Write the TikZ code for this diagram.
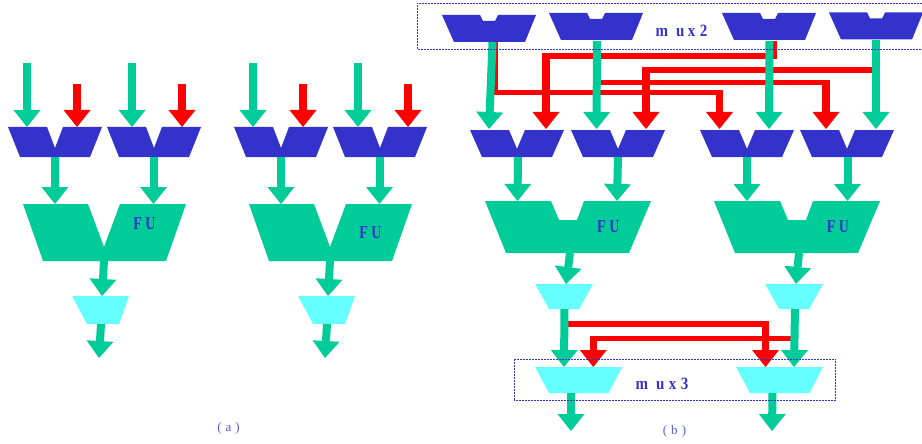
\documentclass[tikz,border=0pt]{standalone}
\usepackage{fontspec}
\setmainfont{Liberation Serif}
\usetikzlibrary{arrows.meta}
\definecolor{fugreen}{RGB}{0,204,153}
\definecolor{muxblue}{RGB}{51,51,204}
\definecolor{wirered}{RGB}{255,0,0}
\definecolor{regcyan}{RGB}{102,255,255}
\definecolor{capblue}{RGB}{90,90,210}
\tikzset{
 garrow/.style={draw=fugreen, line width=8pt, -{Triangle[width=27pt,length=17pt,line width=0pt]}},
 rarrow/.style={draw=wirered, line width=7.5pt, shorten <=-2.75pt, -{Triangle[width=27pt,length=17pt,line width=0pt]}},
 rwire/.style={draw=wirered, line width=5.5pt},
 muxbox/.style={draw=muxblue, line width=0.9pt, dash pattern=on 2pt off 1pt},
 fulabel/.style={text=muxblue, font=\bfseries\fontsize{14}{14}\selectfont, inner sep=0pt, yscale=1.3, transform shape},
 muxlabel/.style={text=muxblue, font=\bfseries\fontsize{15}{15}\selectfont, inner sep=0pt, yscale=1.15, transform shape},
 caplabel/.style={text=capblue, font=\fontsize{13}{13}\selectfont, inner sep=0pt},
 dmux/.pic={\fill[muxblue] (0,0)--(39,0)--(47,21)--(55,0)--(94,0)--(82,30)--(12,30)--cycle;},
 wmux/.pic={\fill[muxblue] (0,0)--(38,0)--(41,6)--(53,6)--(56,0)--(94,0)--(83,27)--(12,27)--cycle;},
 fua/.pic={\fill[fugreen] (0,0)--(65,0)--(81,43)--(97,0)--(163,0)--(143,57)--(20,57)--cycle;},
 fub/.pic={\fill[fugreen] (0,0)--(66,0)--(74,19)--(92,19)--(99,0)--(166,0)--(144,52)--(21,52)--cycle;},
 rega/.pic={\fill[regcyan] (0,0)--(57,0)--(47,28)--(15,28)--cycle;},
 regb/.pic={\fill[regcyan] (0,0)--(58,0)--(44,25)--(14,25)--cycle;},
 regc/.pic={\fill[regcyan] (0,0)--(87,0)--(73.5,26)--(14,26)--cycle;},
}
\begin{document}
\begin{tikzpicture}[x=1pt,y=-1pt]
\useasboundingbox (0,0) rectangle (922,444);

% ---------------- (a) : two identical slices ----------------
\foreach \n/\dx/\ly in {1/0/224,2/226/232.5}{
 \begin{scope}[xshift=\dx pt]
  \pic (a\n-m1) at (8,127) {dmux};
  \pic (a\n-m2) at (107,127) {dmux};
  \pic (a\n-fu) at (23,204) {fua};
  \pic (a\n-rg) at (72,296) {rega};
  \node[fulabel] (a\n-lab) at (144.5,\ly) {F U};
  \coordinate (a\n-g1s) at (27,63);    \coordinate (a\n-g1e) at (27,127);
  \coordinate (a\n-r1s) at (77,84);    \coordinate (a\n-r1e) at (77,127);
  \coordinate (a\n-g2s) at (132,63);   \coordinate (a\n-g2e) at (132,127);
  \coordinate (a\n-r2s) at (182,84);   \coordinate (a\n-r2e) at (182,127);
  \coordinate (a\n-o1s) at (55,157);   \coordinate (a\n-o1e) at (55,204);
  \coordinate (a\n-o2s) at (153.5,157);\coordinate (a\n-o2e) at (153.5,204);
  \coordinate (a\n-fos) at (104,261);  \coordinate (a\n-foe) at (102,296);
  \coordinate (a\n-ros) at (101,324);  \coordinate (a\n-roe) at (99,358);
 \end{scope}
 \draw[garrow] (a\n-g1s) -- (a\n-g1e);
 \draw[rarrow,shorten <=0pt] (a\n-r1s) -- (a\n-r1e);
 \draw[garrow] (a\n-g2s) -- (a\n-g2e);
 \draw[rarrow,shorten <=0pt] (a\n-r2s) -- (a\n-r2e);
 \draw[garrow] (a\n-o1s) -- (a\n-o1e);
 \draw[garrow] (a\n-o2s) -- (a\n-o2e);
 \draw[garrow] (a\n-fos) -- (a\n-foe);
 \draw[garrow] (a\n-ros) -- (a\n-roe);
}
\node[caplabel] (capa) at (228.5,428.5) {(\hspace{4pt}a\hspace{4pt})};

% ---------------- (b) ----------------
\pic (wA) at (442,15) {wmux};
\pic (wB) at (549,13) {wmux};
\pic (wC) at (722,13) {wmux};
\pic (wD) at (829,12.5) {wmux};
\pic[yscale=0.9] (bm1) at (470,130) {dmux};
\pic[yscale=0.9] (bm2) at (571,130) {dmux};
\pic[yscale=0.9] (bm3) at (700,130) {dmux};
\pic[yscale=0.9] (bm4) at (800,130) {dmux};
\pic (bfu1) at (485,201) {fub};
\pic (bfu2) at (714,201) {fub};
\pic (brg1) at (535,284) {regb};
\pic (brg2) at (765,284) {regb};
\pic (bmx1) at (535,367) {regc};
\pic (bmx2) at (736,367) {regc};
\node[fulabel] (bfu1lab) at (608.3,226.7) {F U};
\node[fulabel] (bfu2lab) at (838,226.7) {F U};
\node[muxlabel] (mux2lab) at (681.5,31) {m\hspace{8pt}u\hspace{3.5pt}x\hspace{4.5pt}2};
\node[muxlabel] (mux3lab) at (662,383.5) {m\hspace{8pt}u\hspace{4.5pt}x\hspace{4.5pt}3};
\node[caplabel] (capb) at (674.5,431) {(\hspace{4pt}b\hspace{4pt})};

% coordinates of the connectors
\coordinate (rA0) at (495,42);  \coordinate (rA1) at (495,92.5);  \coordinate (rA2) at (719.5,92.5); \coordinate (rA3) at (719.5,129);
\coordinate (rB0) at (597,45);  \coordinate (rB1) at (597,82.5);  \coordinate (rB2) at (826,82.5);   \coordinate (rB3) at (826,129);
\coordinate (rC0) at (774,41);  \coordinate (rC1) at (774,56);    \coordinate (rC2) at (546,56);     \coordinate (rC3) at (546,129);
\coordinate (rD0) at (876,40);  \coordinate (rD1) at (876,70);    \coordinate (rD2) at (646,70);     \coordinate (rD3) at (646,129);
\coordinate (rE0) at (565,324); \coordinate (rE1) at (765.5,324); \coordinate (rE2) at (765.5,367);
\coordinate (rF0) at (795,338.5); \coordinate (rF1) at (593.3,338.5); \coordinate (rF2) at (593.3,367);

\coordinate (gA0) at (492.5,42); \coordinate (gA1) at (489,129);
\coordinate (gB0) at (597,41);   \coordinate (gB1) at (596.5,129);
\coordinate (gC0) at (769.5,41); \coordinate (gC1) at (769,129);
\coordinate (gD0) at (876,40);   \coordinate (gD1) at (876,129);
\coordinate (gm10) at (518,157);   \coordinate (gm11) at (517.5,201);
\coordinate (gm20) at (618,157);   \coordinate (gm21) at (617,201);
\coordinate (gm30) at (747,157);   \coordinate (gm31) at (747,201);
\coordinate (gm40) at (847.5,157); \coordinate (gm41) at (847.5,201);
\coordinate (gf10) at (570,253); \coordinate (gf11) at (566,284);
\coordinate (gf20) at (799,253); \coordinate (gf21) at (796,284);
\coordinate (gr10) at (564.5,309); \coordinate (gr11) at (564,367);
\coordinate (gr20) at (795,309);   \coordinate (gr21) at (794,367);
\coordinate (go10) at (571,393);   \coordinate (go11) at (571,431);
\coordinate (go20) at (772.5,393); \coordinate (go21) at (772,431);

% red wires (behind)
\draw[rwire] (rA0) -- (rA1) -- (rA2);  \draw[rarrow] (rA2) -- (rA3);
\draw[rwire] (rB0) -- (rB1) -- (rB2);  \draw[rarrow] (rB2) -- (rB3);
\draw[rwire] (rC0) -- (rC1) -- (rC2);  \draw[rarrow] (rC2) -- (rC3);
\draw[rwire] (rD0) -- (rD1) -- (rD2);  \draw[rarrow] (rD2) -- (rD3);
\draw[rwire] (rE0) -- (rE1);           \draw[rarrow] (rE1) -- (rE2);
\draw[rwire] (rF0) -- (rF1);           \draw[rarrow] (rF1) -- (rF2);

% green arrows
\draw[garrow] (gA0) -- (gA1);
\draw[garrow] (gB0) -- (gB1);
\draw[garrow] (gC0) -- (gC1);
\draw[garrow] (gD0) -- (gD1);
\draw[garrow] (gm10) -- (gm11);
\draw[garrow] (gm20) -- (gm21);
\draw[garrow] (gm30) -- (gm31);
\draw[garrow] (gm40) -- (gm41);
\draw[garrow] (gf10) -- (gf11);
\draw[garrow] (gf20) -- (gf21);
\draw[garrow] (gr10) -- (gr11);
\draw[garrow] (gr20) -- (gr21);
\draw[garrow] (go10) -- (go11);
\draw[garrow] (go20) -- (go21);

% dotted group boxes
\draw[muxbox] (922,3) -- (417,3) -- (417,49) -- (922,49);
\draw[muxbox] (514.3,359.3) rectangle (835.7,400);
\end{tikzpicture}
\end{document}
